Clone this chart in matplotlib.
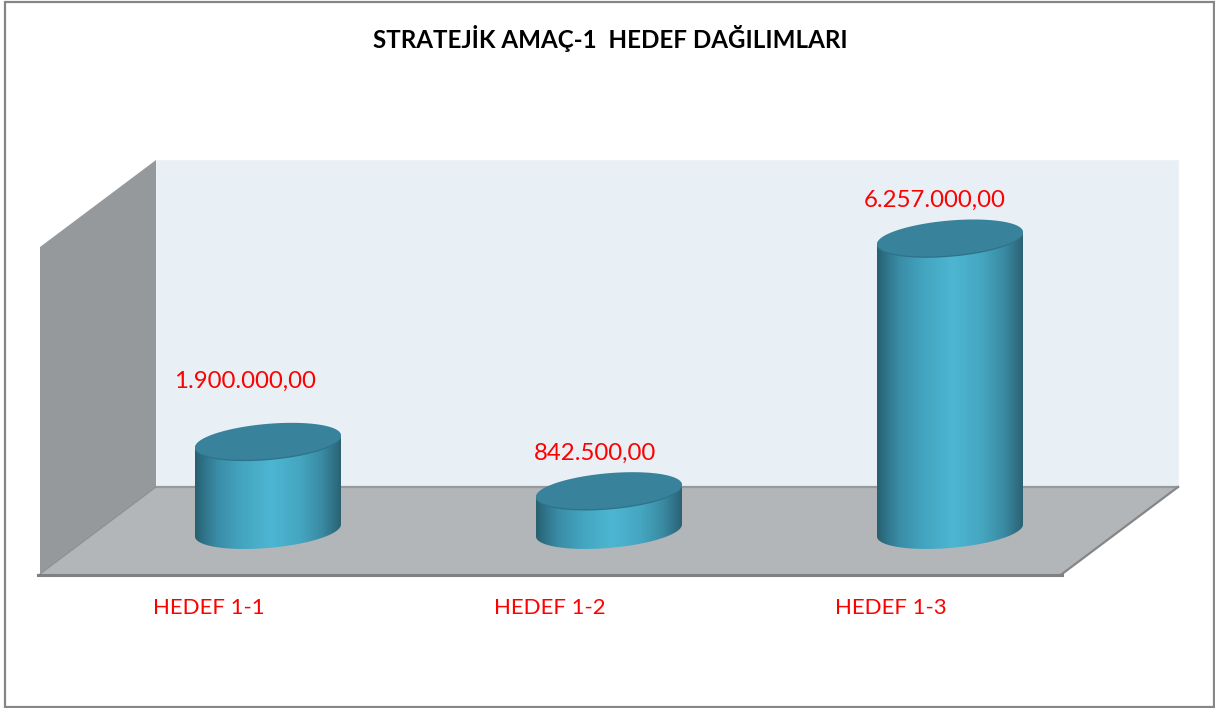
import numpy as np
import matplotlib
matplotlib.use("Agg")
import matplotlib.pyplot as plt
from matplotlib.colors import LinearSegmentedColormap
from matplotlib.patches import Polygon, PathPatch, Rectangle
from matplotlib.path import Path

# data
categories = ["HEDEF 1-1", "HEDEF 1-2", "HEDEF 1-3"]
values = [1900000.00, 842500.00, 6257000.00]
value_labels = ["1.900.000,00", "842.500,00", "6.257.000,00"]
title = "STRATEJİK AMAÇ-1  HEDEF DAĞILIMLARI"

W, H = 1215, 708
base_px = 530.5       # floor level of the bars
unit_px = 341.0       # px between categories
first_px = 268.0      # px of first category
val_per_px = 6257000.0 / 292.0
bar_a, bar_b, bar_k = 73.0, 17.5, 6.0  # cylinder half width, depth, tilt in px

plt.rcParams["font.family"] = ["Lato", "DejaVu Sans"]

fig = plt.figure(figsize=(W / 100, H / 100), dpi=100)

# chart frame, walls and floor in pixel coords
bg = fig.add_axes([0, 0, 1, 1])
bg.set_xlim(0, W)
bg.set_ylim(H, 0)
bg.axis("off")
bg.add_patch(Rectangle((5, 1.5), 1209, 705.5, fc="white", ec="#868686", lw=1.6))
bg.add_patch(Polygon([(156, 160), (1178, 160), (1178, 487), (156, 487)], fc="#e8eff5", ec="#eef2f7", lw=0.8))
bg.add_patch(Polygon([(40, 247), (156, 160), (156, 487), (40, 574)], fc="#96999c", ec="none"))
bg.add_patch(Polygon([(40, 574), (156, 487), (1178, 487), (1062, 574)], fc="#b2b6b9", ec="none"))
bg.plot([156, 1178], [487, 487], color="#979a9c", lw=1.6)
bg.plot([1062, 1178], [574, 487], color="#868686", lw=1.6)
bg.plot([40, 156], [574, 487], color="#8b8d90", lw=0.8)
bg.plot([38, 1062], [574.5, 574.5], color="#808080", lw=2.2)
bg.text(610, 39, title, ha="center", va="center", fontsize=17.4, fontweight="bold", color="black")

# data axes, spans the whole figure so the scale stays in step with the walls
ax = fig.add_axes([0, 0, 1, 1])
ax.patch.set_alpha(0)
ax.axis("off")
xlim = (-first_px / unit_px, (W - first_px) / unit_px)
ylim = ((base_px - H) * val_per_px, base_px * val_per_px)

side_cmap = LinearSegmentedColormap.from_list(
    "side",
    [(0.0, "#27606f"), (0.06, "#2f7389"), (0.16, "#3b8ea8"), (0.33, "#44a6c1"),
     (0.52, "#4db6d2"), (0.72, "#45a6c0"), (0.87, "#3a8ba3"), (0.96, "#2f6f84"), (1.0, "#2b6273")],
)
gradient = np.linspace(0, 1, 256).reshape(1, -1)


def ring(cx, top, t):
    # points on the tilted ellipse around (cx, top), in data coords
    x = cx + bar_a * np.cos(t) / unit_px
    y = top - (bar_b * np.sin(t) - bar_k * np.cos(t)) * val_per_px
    return np.column_stack([x, y])


for i, v in enumerate(values):
    t_front = np.linspace(np.pi, 0, 80)
    lower = ring(i, 0, t_front)
    upper = ring(i, v, t_front[::-1])
    verts = np.vstack([lower, upper, lower[:1]])
    side = Path(verts)
    im = ax.imshow(
        gradient, cmap=side_cmap, aspect="auto", zorder=2,
        extent=[i - bar_a / unit_px, i + bar_a / unit_px, ylim[0], ylim[1]],
    )
    clip = PathPatch(side, fc="none", ec="none", transform=ax.transData)
    ax.add_patch(clip)
    im.set_clip_path(clip)
    # dark lower rim of the cap, then the cap itself lifted a little
    t_all = np.linspace(0, 2 * np.pi, 160)
    ax.add_patch(Polygon(ring(i, v - 0.8 * val_per_px, t_all), fc="#2e7288", ec="none", zorder=3))
    ax.add_patch(Polygon(ring(i, v + 0.5 * val_per_px, t_all), fc="#38829b", ec="none", zorder=3))

ax.set_xlim(xlim)
ax.set_ylim(ylim)

# labels, offsets in pixels from the top of the cylinder
label_dx = [-23, -14, -15]
label_dy = [60, 38, 38]
for i, v in enumerate(values):
    ax.annotate(value_labels[i], (i, v), xytext=(label_dx[i] * 0.72, label_dy[i] * 0.72),
                textcoords="offset points", ha="center", va="center",
                fontsize=17.3, color="#ff0000", zorder=5)
    ax.annotate(categories[i], (i, 0), xytext=(-59 * 0.72, -78 * 0.72),
                textcoords="offset points", ha="center", va="center",
                fontsize=16, color="#ff0000", zorder=5)

fig.savefig("out.png", dpi=100)
